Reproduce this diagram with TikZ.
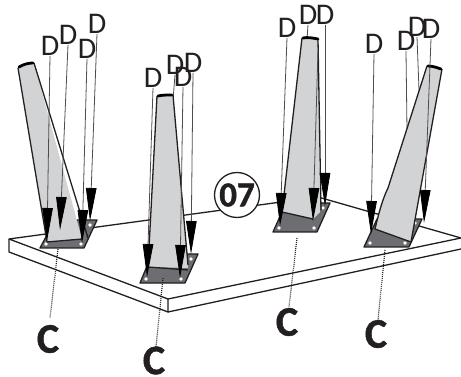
\documentclass[tikz,border=0pt]{standalone}
\usepackage{fontspec}
\setmainfont{Carlito}
\usetikzlibrary{arrows.meta}
\definecolor{leggray}{HTML}{D1D3D4}
\definecolor{plategray}{HTML}{6D6E71}
\definecolor{inkc}{HTML}{231F20}
\tikzset{
  x=1pt,y=-1pt,
  edge/.style={draw=inkc,line width=1.3pt,line join=round},
  plate/.style={edge,fill=plategray},
  legtop/.style={draw=black,line width=2.8pt,line cap=round},
  hole/.style={circle,fill=white,inner sep=0pt,minimum size=3.6pt},
  dlabel/.style={inner sep=0pt,text=inkc,font=\fontsize{30}{30}\selectfont},
  clabel/.style={inner sep=0pt,text=inkc,font=\fontsize{42}{42}\selectfont\bfseries\addfontfeature{FakeBold=1.2}},
  stepmark/.style={circle,draw=inkc,line width=1.3pt,fill=white,minimum size=45pt,inner sep=0pt,text=inkc,font=\fontsize{35}{35}\selectfont\bfseries\addfontfeature{FakeBold=1.2}},
  screw/.style={draw=inkc!80!white,line width=.8pt,-{Triangle[length=33pt,width=10.5pt,color=black,fill=black]}},
  hiddenline/.style={draw=inkc!80!white,line width=.8pt},
  leader/.style={draw=inkc,line width=1.2pt,dash pattern=on .9pt off 1.1pt}
}
\begin{document}
\begin{tikzpicture}
\useasboundingbox (0,0) rectangle (461,377);
% board
\coordinate (bl) at (9,239);
\coordinate (bf) at (168,299);
\coordinate (br) at (461,238);
\coordinate (bb) at (318,197);
\coordinate (bld) at (9,252);
\coordinate (bfd) at (168,312);
\coordinate (brd) at (461,249);
\draw[edge,fill=white] (bl) -- (bb) -- (br) -- (bf) -- cycle;
\draw[edge] (bl) -- (bld) -- (bfd) -- (bf);
\draw[edge] (bfd) -- (brd);
% labels
\node[dlabel] (d1) at (50,46) {D};
\node[dlabel] (d2) at (68,35) {D};
\node[dlabel] (d3) at (87,49) {D};
\node[dlabel] (d4) at (97,24) {D};
\node[dlabel] (d5) at (153,78) {D};
\node[dlabel] (d6) at (175,65) {D};
\node[dlabel] (d7) at (183,77) {D};
\node[dlabel] (d8) at (193,63) {D};
\node[dlabel] (d9) at (287,28) {D};
\node[dlabel] (d10) at (308,15) {D};
\node[dlabel] (d11) at (325,15) {D};
\node[dlabel] (d12) at (374,44) {D};
\node[dlabel] (d13) at (406,41) {D};
\node[dlabel] (d14) at (417,27) {D};
\node[dlabel] (d15) at (431,29) {D};
\node[clabel] (c1) at (48,339) {C};
\node[clabel] (c2) at (154,360.5) {C};
\node[clabel] (c3) at (287,322) {C};
\node[clabel] (c4) at (376,334) {C};
\node[stepmark] (s) at (237,195) {07};
% hidden screw shafts
\coordinate (h6) at (173,100);
\coordinate (h10) at (307,40);
\coordinate (h13) at (407,130);
\coordinate (h14) at (419,90);
\draw[hiddenline] (d6.south) -- (h6);
\draw[hiddenline] (d10.south) -- (h10);
\draw[hiddenline] (d13.south) -- (h13);
\draw[hiddenline] (d14.south) -- (h14);
% plates
\draw[plate] (40,248) -- (84,248) -- (97,220) -- (55,220) -- cycle;
\draw[plate] (140,283) -- (185,283) -- (198,254) -- (152,254) -- cycle;
\draw[plate] (273,232) -- (317,232) -- (330,203) -- (286,203) -- cycle;
\draw[plate] (364,247) -- (409,247) -- (422,219) -- (377,219) -- cycle;
% holes
\foreach \n/\p in {a/{46,244},b/{81,244},c/{90,225},e/{146,279},f/{181,279},g/{191,259},h/{279,228},i/{314,228},j/{323,208},k/{370,243},l/{405,243},m/{415,223}}
  \node[hole] (hole\n) at (\p) {};
% legs
\fill[leggray] (18,68) -- (34,63) -- (82,239) -- (47,242) -- cycle;
\draw[edge] (18,68) -- (47,242) -- (82,239);
\draw[edge] (34,63) -- (88,238);
\fill[leggray] (157,96) -- (173,95) -- (188,268) -- (148,267) -- cycle;
\draw[edge] (157,96) -- (148,267) -- (188,270);
\draw[edge] (173,95) -- (188,265);
\fill[leggray] (302,38) -- (318,39) -- (320,212) -- (313,219) -- (282,212) -- cycle;
\draw[edge] (302,38) -- (282,212) -- (313,219);
\draw[edge] (318,39) -- (321,210);
\fill[leggray] (427,66) -- (442,69) -- (411,242) -- (375,229) .. controls (379,212) and (383,198) .. (388,188) -- cycle;
\draw[edge] (427,66) -- (388,188) .. controls (383,198) and (379,212) .. (375,229) -- (411,242) -- (442,69);
% leg tops
\draw[legtop] (19,67) .. controls (24,64) and (29,63) .. (33,63);
\draw[legtop] (158,96) .. controls (162,95) and (167,95) .. (172,95);
\draw[legtop] (303,38) .. controls (307,37) and (313,38) .. (318,39);
\draw[legtop] (428,66) .. controls (433,66) and (438,68) .. (441,69);
% screws
\coordinate (t1) at (47,241);
\coordinate (t2) at (60,230);
\coordinate (t3) at (82,243);
\coordinate (t4) at (90,221);
\coordinate (t5) at (147,277);
\coordinate (t7) at (180,278);
\coordinate (t8) at (191,254);
\coordinate (t9) at (280,226);
\coordinate (t10) at (313,221);
\coordinate (t10s) at (318,50);
\coordinate (t11) at (325,206);
\coordinate (t12) at (371,234);
\coordinate (t15) at (424,223);
\draw[screw] (d1.south) -- (t1);
\draw[screw] (d2.south) -- (t2);
\draw[screw] (d3.south) -- (t3);
\draw[screw] (d4.south) -- (t4);
\draw[screw] (d5.south) -- (t5);
\draw[screw] (d7.south) -- (t7);
\draw[screw] (d8.south) -- (t8);
\draw[screw] (d9.south) -- (t9);
\draw[screw] (t10s) -- (t10);
\draw[screw] (d11.south) -- (t11);
\draw[screw] (d12.south) -- (t12);
\draw[screw] (d15.south) -- (t15);
% leaders
\coordinate (p1) at (58,249);
\coordinate (p2) at (163,278);
\coordinate (p3) at (297,238);
\coordinate (p4) at (385,250);
\draw[leader] (p1) -- (50,318);
\draw[leader] (p2) -- (156,347);
\draw[leader] (p3) -- (289,307);
\draw[leader] (p4) -- (378,320);
\end{tikzpicture}
\end{document}
